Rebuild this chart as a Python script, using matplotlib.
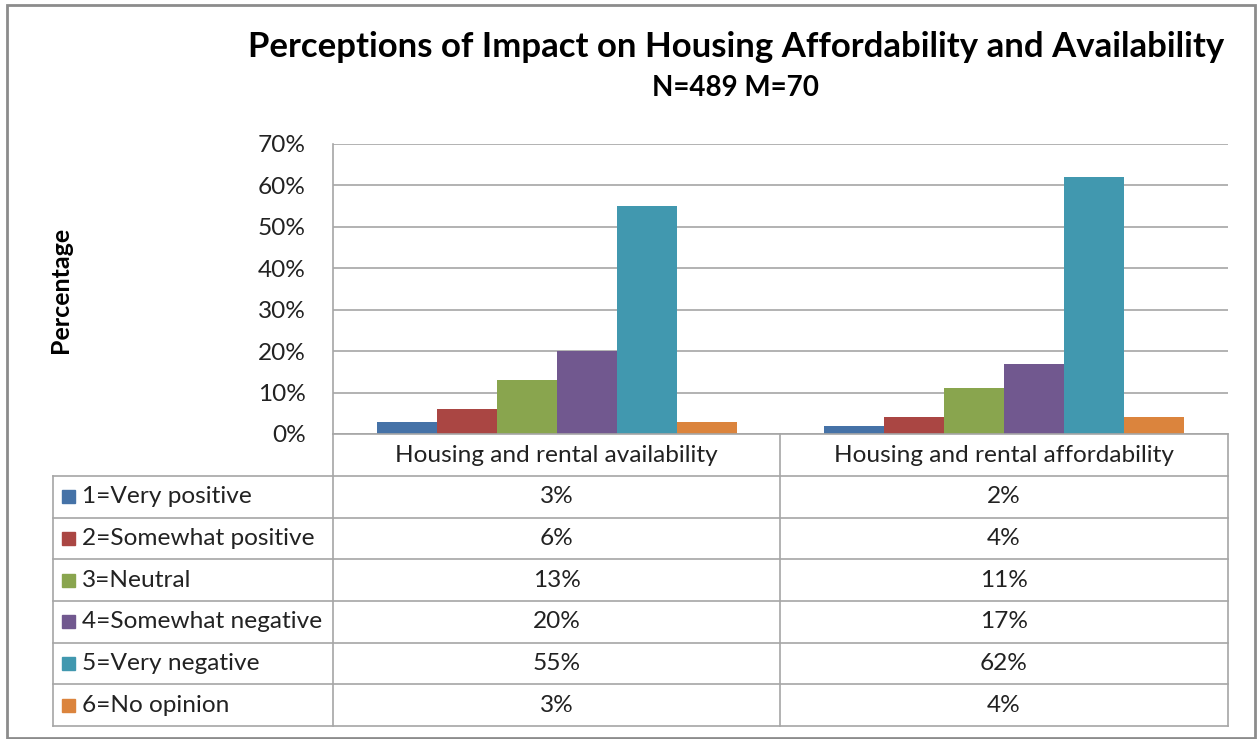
import matplotlib.pyplot as plt
from matplotlib.patches import Rectangle
import numpy as np

plt.rcParams['font.family'] = ['Lato', 'DejaVu Sans']

categories = ['Housing and rental availability', 'Housing and rental affordability']
responses = ['1=Very positive', '2=Somewhat positive', '3=Neutral',
             '4=Somewhat negative', '5=Very negative', '6=No opinion']
availability = [3, 6, 13, 20, 55, 3]
affordability = [2, 4, 11, 17, 62, 4]
colors = ['#4572A7', '#AA4643', '#89A54E', '#71588F', '#4198AF', '#DB843D']
yticks = [0, 10, 20, 30, 40, 50, 60, 70]

W, H = 1260, 739
fs = 17.6
fig = plt.figure(figsize=(W / 100, H / 100), dpi=100)

# plot area in pixel terms
left, right, top, zero = 333, 1228, 144, 434
ax = fig.add_axes([left / W, 1 - zero / H, (right - left) / W, (zero - top) / H])

values = np.array([availability, affordability])
x = np.arange(len(categories))
bw = 0.134
for i, resp in enumerate(responses):
    ax.bar(x + (i - 2.5) * bw, values[:, i], bw, color=colors[i], zorder=3)

ax.set_xlim(-0.5, 1.5)
ax.set_ylim(0, 70)
ax.set_yticks(yticks)
ax.set_yticklabels(['%d%%' % t for t in yticks], fontsize=fs, color='#222222')
ax.set_xticks([])
ax.tick_params(axis='y', length=0, pad=19.5)
ax.yaxis.grid(True, color='#A6A6A6', lw=1.2, zorder=0)
for s in ['top', 'right', 'bottom']:
    ax.spines[s].set_visible(False)
ax.spines['left'].set_color('#A6A6A6')
ax.spines['left'].set_linewidth(1.2)

# overlay in pixel coords for table, titles and frame
ov = fig.add_axes([0, 0, 1, 1], zorder=5)
ov.set_xlim(0, W)
ov.set_ylim(H, 0)
ov.axis('off')
ov.patch.set_alpha(0)

gc = '#A6A6A6'
tleft, mid, hdr = 53, 780, 476
row_h = 41.67
n = len(responses)
bottom = hdr + n * row_h
ov.plot([left, right], [zero, zero], color=gc, lw=1.2)
for k in range(n + 1):
    yy = hdr + k * row_h
    ov.plot([tleft, right], [yy, yy], color=gc, lw=1.2)
ov.plot([tleft, tleft], [hdr, bottom], color=gc, lw=1.2)
ov.plot([left, left], [zero, bottom], color=gc, lw=1.2)
ov.plot([mid, mid], [zero, bottom], color=gc, lw=1.2)
ov.plot([right, right], [zero, bottom], color=gc, lw=1.2)

centers = [(left + mid) / 2, (mid + right) / 2]
for c, cat in enumerate(categories):
    ov.text(centers[c], (zero + hdr) / 2, cat, ha='center', va='center',
            fontsize=fs, color='#222222')
for k, resp in enumerate(responses):
    yc = hdr + (k + 0.5) * row_h
    ov.add_patch(Rectangle((62, yc - 6.5), 13, 13, color=colors[k]))
    ov.text(82, yc, resp, ha='left', va='center', fontsize=fs, color='#222222')
    for c in range(len(categories)):
        ov.text(centers[c], yc, '%d%%' % values[c, k], ha='center', va='center',
                fontsize=fs, color='#222222')

ov.text(736, 47, 'Perceptions of Impact on Housing Affordability and Availability',
        ha='center', va='center', fontsize=25, fontweight='bold')
ov.text(736, 88, 'N=489 M=70', ha='center', va='center', fontsize=20,
        fontweight='bold')
ov.text(60, 290, 'Percentage', ha='center', va='center', rotation=90,
        fontsize=18, fontweight='bold')

ov.add_patch(Rectangle((7, 5), 1248, 733, fill=False, ec='#8C8C8C', lw=2))

plt.savefig('out.png', dpi=100)
